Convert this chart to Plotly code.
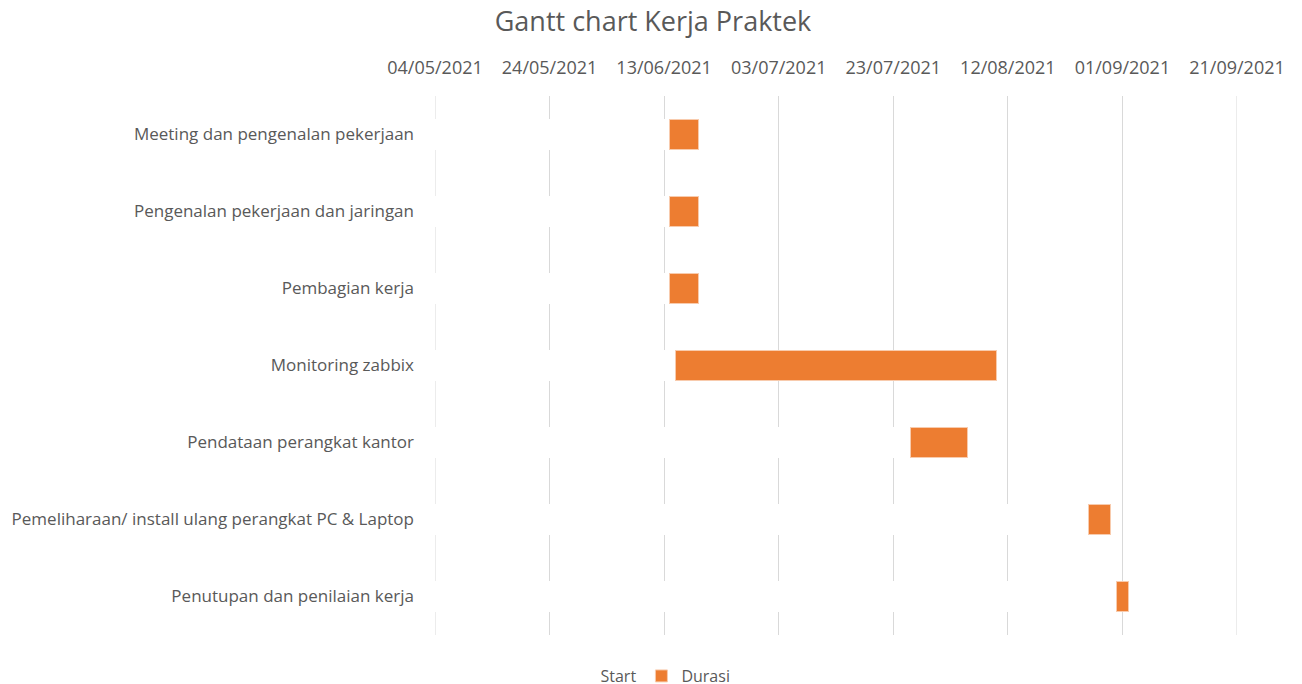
import pandas as pd
import plotly.graph_objects as go

tasks = [
    "Meeting dan pengenalan pekerjaan",
    "Pengenalan pekerjaan dan jaringan",
    "Pembagian kerja",
    "Monitoring zabbix",
    "Pendataan perangkat kantor",
    "Pemeliharaan/ install ulang perangkat PC & Laptop",
    "Penutupan dan penilaian kerja",
]
start_dates = ["2021-06-14", "2021-06-14", "2021-06-14", "2021-06-15",
               "2021-07-26", "2021-08-26", "2021-08-31"]
durasi = [5, 5, 5, 56, 10, 4, 2]
tick_dates = ["2021-05-04", "2021-05-24", "2021-06-13", "2021-07-03",
              "2021-07-23", "2021-08-12", "2021-09-01", "2021-09-21"]

epoch = pd.Timestamp("1899-12-30")
def serial(d):
    return (pd.Timestamp(d) - epoch).days

start_serial = [serial(d) for d in start_dates]
tick_serial = [serial(d) for d in tick_dates]
tick_text = [pd.Timestamp(d).strftime("%d/%m/%Y") for d in tick_dates]

FONT = "Open Sans"
GREY = "#595959"
GRID = "#D9D9D9"

# page body has an 8px margin; figure is sized/positioned to compensate
W, H, OFF = 1294, 676, 8

fig = go.Figure()
fig.add_trace(go.Bar(
    y=tasks, x=start_serial, orientation="h", name="Start",
    marker=dict(color="white", line=dict(color="white", width=1)),
    hoverinfo="skip",
))
fig.add_trace(go.Bar(
    y=tasks, x=durasi, orientation="h", name="Durasi",
    marker=dict(color="#ED7D31", line=dict(color="#F8CBAD", width=1)),
))

# edge gridlines (plotly omits those at the range ends)
for v in (tick_serial[0], tick_serial[-1]):
    fig.add_shape(type="line", xref="x", yref="paper", x0=v, x1=v, y0=0, y1=1,
                  line=dict(color=GRID, width=1), layer="below")

fig.update_layout(
    barmode="stack",
    bargap=0.6,
    width=W, height=H,
    margin=dict(l=435 - OFF, r=W - (1237 - OFF), t=96 - OFF, b=H - (635 - OFF),
                autoexpand=False),
    paper_bgcolor="white", plot_bgcolor="white",
    font=dict(family=FONT, color=GREY, size=17),
    title=dict(text="Gantt chart Kerja Praktek", x=(653 - OFF) / W, xanchor="center",
               y=1 - (22 - OFF) / H, yanchor="middle", yref="container",
               font=dict(size=27, color=GREY, family=FONT)),
    legend=dict(orientation="h", xref="container", yref="container",
                x=(648 - OFF) / W, xanchor="center", y=1 - (676 - OFF) / H,
                yanchor="middle", font=dict(size=16, color=GREY),
                traceorder="normal"),
    xaxis=dict(side="top", range=[tick_serial[0], tick_serial[-1]],
               tickmode="array", tickvals=tick_serial, ticktext=tick_text,
               showgrid=True, gridcolor=GRID, gridwidth=1, automargin=False,
               zeroline=False, showline=False, ticks="",
               ticklabelstandoff=17, tickfont=dict(size=18, color=GREY)),
    yaxis=dict(autorange="reversed", showgrid=False, zeroline=False,
               showline=False, ticks="", ticklabelstandoff=20, automargin=False,
               tickfont=dict(size=17, color=GREY)),
)

fig.write_html("out.html")
